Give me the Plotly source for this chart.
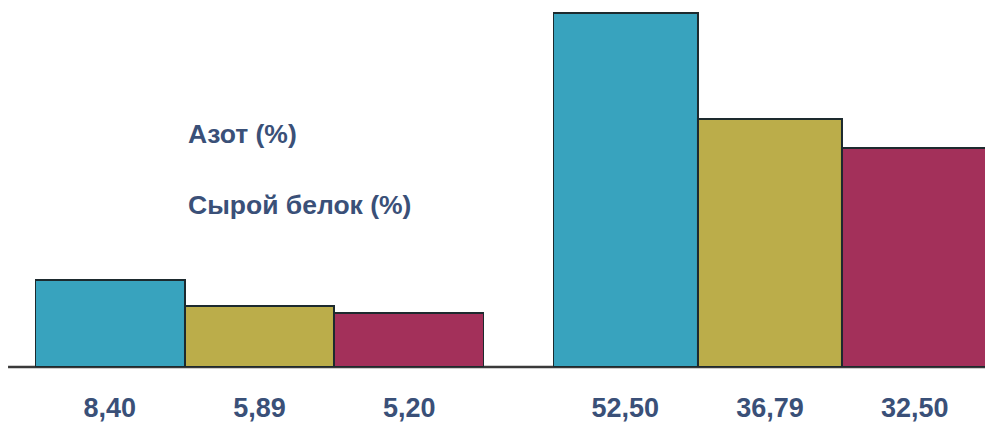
import plotly.graph_objects as go
from plotly.subplots import make_subplots

# Data
nitrogen_labels = ["8,40", "5,89", "5,20"]
nitrogen_values = [8.40, 5.89, 5.20]
protein_labels = ["52,50", "36,79", "32,50"]
protein_values = [52.50, 36.79, 32.50]
legend_texts = ["Азот (%)", "Сырой белок (%)"]

bar_colors = ["#38A3BE", "#BBAD4A", "#A3305A"]
edge_color = "#1d2a2e"
text_color = "#3a5078"
font_family = "Liberation Sans, Arial, sans-serif"

fig = make_subplots(rows=1, cols=2)

fig.add_trace(go.Bar(x=nitrogen_labels, y=nitrogen_values,
                     marker=dict(color=bar_colors, line=dict(color=edge_color, width=2)),
                     showlegend=False, hoverinfo="skip", cliponaxis=False), row=1, col=1)
fig.add_trace(go.Bar(x=protein_labels, y=protein_values,
                     marker=dict(color=bar_colors, line=dict(color=edge_color, width=2)),
                     showlegend=False, hoverinfo="skip", cliponaxis=False), row=1, col=2)

axis_x = dict(type="category", showgrid=False, zeroline=False, showline=False,
              automargin=False,
              ticks="outside", ticklen=17, tickcolor="rgba(0,0,0,0)",
              tickfont=dict(family=font_family, size=27, color=text_color, weight="bold"))
axis_y = dict(showgrid=False, zeroline=False, showline=False, showticklabels=False,
              automargin=False, domain=[0, 1])

fig.update_xaxes(**axis_x)
fig.update_yaxes(**axis_y)
fig.update_layout(
    xaxis=dict(domain=[0.02556, 0.48466]),
    xaxis2=dict(domain=[0.5552, 0.9990]),
    yaxis=dict(range=[0, 34.3]),
    yaxis2=dict(range=[0, 52.9]),
    bargap=0,
    width=985, height=415,
    margin=dict(l=2, r=5, t=2, b=56, autoexpand=False),
    plot_bgcolor="white", paper_bgcolor="white",
)

# Baseline
fig.add_shape(type="line", xref="paper", yref="paper", x0=-0.002, x1=1.006, y0=0, y1=0,
              line=dict(color="#3a3a3a", width=2.5), layer="below")

# Legend-like labels
for txt, yy in zip(legend_texts, [0.6527, 0.4538]):
    fig.add_annotation(text=txt, xref="paper", yref="paper", x=0.18, y=yy,
                       xanchor="left", yanchor="middle", showarrow=False,
                       font=dict(family=font_family, size=26.5, color=text_color, weight="bold"))

fig.write_html("out.html")
